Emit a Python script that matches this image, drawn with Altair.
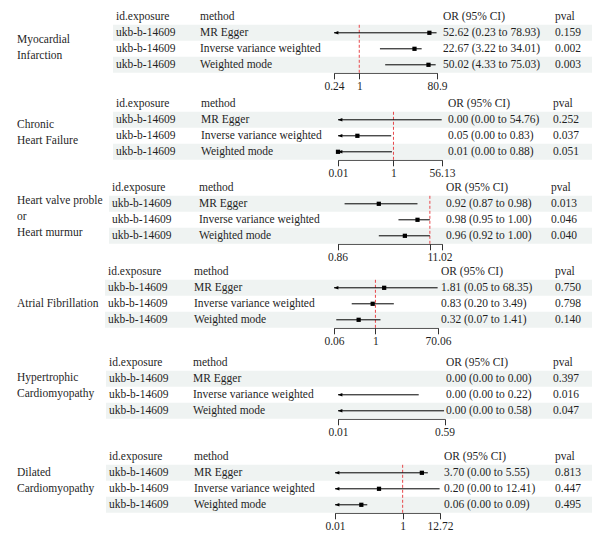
import altair as alt
import pandas as pd

# ---------------- data ----------------
outcomes = ["Myocardial\nInfarction", "Chronic\nHeart Failure",
            "Heart valve problem\nor\nHeart murmur", "Atrial Fibrillation",
            "Hypertrophic\nCardiomyopathy", "Dilated\nCardiomyopathy"]
exposure = "ukb-b-14609"
methods = ["MR Egger", "Inverse variance weighted", "Weighted mode"]
or_est = [[52.62, 22.67, 50.02], [0.00, 0.05, 0.01], [0.92, 0.98, 0.96],
          [1.81, 0.83, 0.32], [0.00, 0.00, 0.00], [3.70, 0.20, 0.06]]
ci_low = [[0.23, 3.22, 4.33], [0.00, 0.00, 0.00], [0.87, 0.95, 0.92],
          [0.05, 0.20, 0.07], [0.00, 0.00, 0.00], [0.00, 0.00, 0.00]]
ci_high = [[78.93, 34.01, 75.03], [54.76, 0.83, 0.88], [0.98, 1.00, 1.00],
           [68.35, 3.49, 1.41], [0.00, 0.22, 0.58], [5.55, 12.41, 0.09]]
pvals = [[0.159, 0.002, 0.003], [0.252, 0.037, 0.051], [0.013, 0.046, 0.040],
         [0.750, 0.798, 0.140], [0.397, 0.016, 0.047], [0.813, 0.447, 0.495]]
axis_ticks = [[0.24, 1, 80.9], [0.01, 1, 56.13], [0.86, 1, 1.02],
              [0.06, 1, 70.06], [0.01, 0.59], [0.01, 1, 12.72]]
headers = ["id.exposure", "method", "OR (95% CI)", "pval"]
ref_value = 1

# ---------------- layout / style ----------------
FONT = "Liberation Serif"
FS = 11.5
INK = "#1f1f1f"
BAND = "#eff3f2"
REF = "#e8474b"
ROW_H = 16
OFF = 8  # page margin

panel_extra = [0, 3, 0, 0, 7, 10]
col_id = [116, 116, 112, 108, 109, 109]
col_method = [200, 201, 199, 194, 193, 194]
col_or = [443, 448, 446, 441, 446, 444]
col_p = [555, 553, 551, 555, 553, 555]
band_left = [113, 113, 109, 105, 106, 106]
band_right = 592
ci_left = [334, 338, 337.5, 334, 338, 335]
ci_right = [437, 442, 442, 438, 444.5, 440]
label_x = 17
label_first_row = [1.45, 1.3, 0.8, 2.0, 0.97, 1.0]
label_line_h = 16
label_limit = 89


def panel(i):
    e = panel_extra[i]
    top = -0.55 - e / ROW_H
    H = (3.5 - top) * ROW_H
    ysc = alt.Scale(domain=[3.5, top], zero=False, nice=False)
    t_lo, t_hi = axis_ticks[i][0], axis_ticks[i][-1]
    xsc = alt.Scale(type="log", domain=[t_lo, t_hi],
                    range=[ci_left[i] - OFF, ci_right[i] - OFF], nice=False)
    xaxis = alt.Axis(values=axis_ticks[i], format="~g", title=None, grid=False,
                     orient="bottom", domainColor="#333333", domainWidth=1,
                     tickColor="#333333", tickSize=6, tickWidth=1,
                     labelFont=FONT, labelFontSize=FS, labelColor=INK,
                     labelPadding=2, labelFlush=False, labelOverlap=False,
                     labelBound=False)

    rows = []
    for r in range(3):
        est, lo, hi = or_est[i][r], ci_low[i][r], ci_high[i][r]
        rows.append(dict(
            row=r + 1, y0=r + 0.5, y1=r + 1.5,
            id=exposure, method=methods[r],
            ortext=f"{est:.2f} ({lo:.2f} to {hi:.2f})",
            ptext=f"{pvals[i][r]:.3f}",
            est=est, lo=lo, hi=hi,
            lo_plot=max(lo, t_lo), hi_plot=min(hi, t_hi),
        ))
    df = pd.DataFrame(rows)
    hdr = pd.DataFrame([dict(row=0, id=headers[0], method=headers[1],
                             ortext=headers[2], ptext=headers[3])])
    tbl = pd.concat([hdr, df[["row", "id", "method", "ortext", "ptext"]]],
                    ignore_index=True)

    base_text = dict(font=FONT, fontSize=FS, color=INK, align="left",
                     baseline="middle")
    layers = []
    # shaded bands
    bands = df[df["row"].isin([1, 3])]
    layers.append(alt.Chart(bands).mark_rect(color=BAND).encode(
        x=alt.value(band_left[i] - OFF), x2=alt.value(band_right - OFF),
        y=alt.Y("y0:Q", scale=ysc, axis=None), y2="y1:Q"))
    # table text
    for field, cx in [("id", col_id[i]), ("method", col_method[i]),
                      ("ortext", col_or[i]), ("ptext", col_p[i])]:
        layers.append(alt.Chart(tbl).mark_text(**base_text).encode(
            x=alt.value(cx - OFF),
            y=alt.Y("row:Q", scale=ysc, axis=None),
            text=f"{field}:N"))
    # outcome label (first line placed at label_first_row, others below)
    lab = pd.DataFrame([dict(row=label_first_row[i], label=outcomes[i])])
    layers.append(alt.Chart(lab).mark_text(
        lineBreak="\n", lineHeight=label_line_h, limit=label_limit,
        ellipsis=" ", **base_text).encode(
        x=alt.value(label_x - OFF),
        y=alt.Y("row:Q", scale=ysc, axis=None), text="label:N"))
    # reference line
    if t_lo <= ref_value <= t_hi:
        ref = pd.DataFrame([dict(x=ref_value, y0=0.5, y1=3.5)])
        layers.append(alt.Chart(ref).mark_rule(
            color=REF, strokeDash=[3, 2], strokeWidth=1).encode(
            x=alt.X("x:Q", scale=xsc, axis=xaxis),
            y=alt.Y("y0:Q", scale=ysc, axis=None), y2="y1:Q"))
    # CI lines
    ci = df[df["hi"] > 0]
    layers.append(alt.Chart(ci).mark_rule(color="black", strokeWidth=1).encode(
        x=alt.X("lo_plot:Q", scale=xsc, axis=xaxis), x2="hi_plot:Q",
        y=alt.Y("row:Q", scale=ysc, axis=None)))
    # arrows for truncated lower limits
    arr = df[(df["lo"] < t_lo) & (df["hi"] > 0)]
    layers.append(alt.Chart(arr).mark_point(
        shape="M0,0 L2.2,-0.9 L2.2,0.9 Z", filled=True, color="black",
        size=16, opacity=1).encode(
        x=alt.X("lo_plot:Q", scale=xsc, axis=xaxis),
        y=alt.Y("row:Q", scale=ysc, axis=None)))
    # point estimates
    pts = df[(df["est"] >= t_lo) & (df["est"] <= t_hi)]
    layers.append(alt.Chart(pts).mark_square(
        color="black", size=18, opacity=1).encode(
        x=alt.X("est:Q", scale=xsc, axis=xaxis),
        y=alt.Y("row:Q", scale=ysc, axis=None)))

    return alt.layer(*layers).properties(width=590, height=H)


chart = alt.vconcat(*[panel(i) for i in range(6)], spacing=19,
                    bounds="flush").properties(
    padding={"left": 0, "top": 0, "right": 0, "bottom": 0}
).configure_view(stroke=None)

chart.save("out.html", embed_options={"renderer": "svg", "actions": False})
